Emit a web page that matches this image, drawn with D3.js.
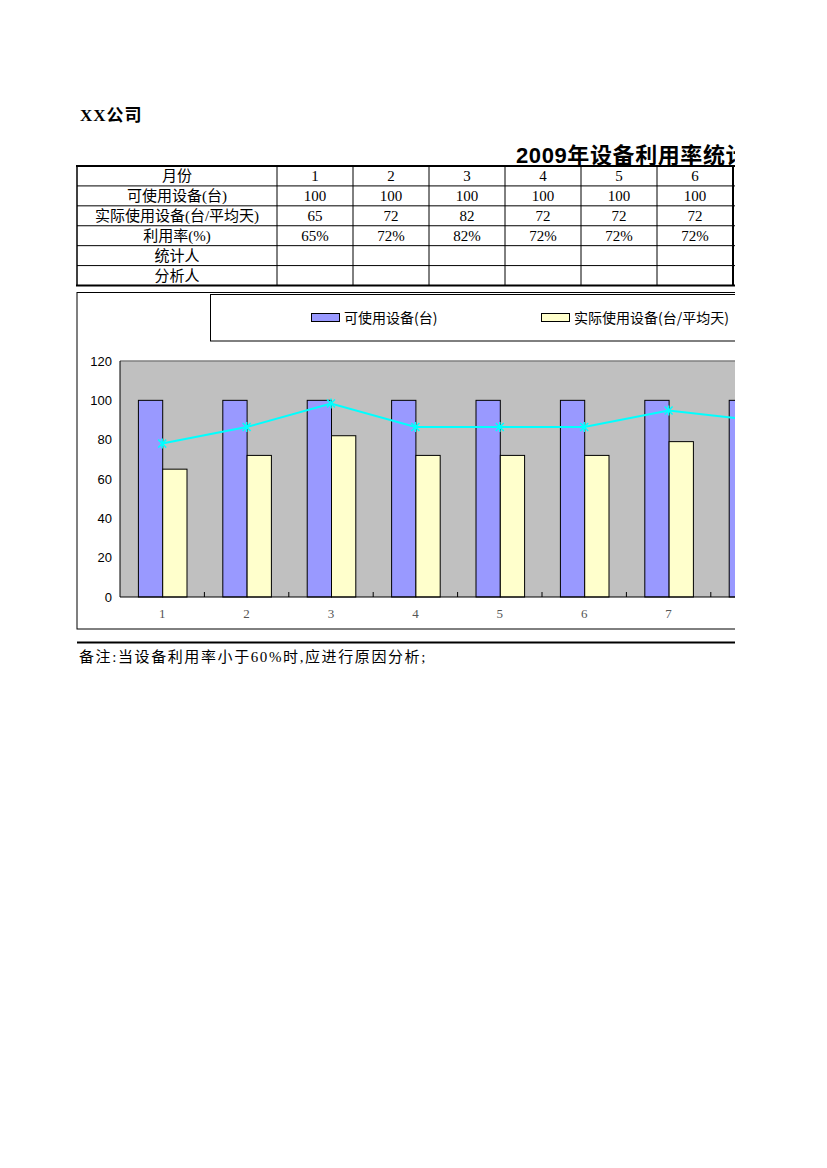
<!DOCTYPE html>
<html><head><meta charset="utf-8">
<script src="https://cdn.jsdelivr.net/npm/d3@7"></script>
<style>body{margin:0;background:#fff}</style></head>
<body><svg id="c" width="827" height="1168"></svg>
<script>
// ---- data ----
const months = ["1","2","3","4","5","6","7","8","9","10","11","12"];
const dataMonths = ["1","2","3","4","5","6","7","8"];
const available = [100,100,100,100,100,100,100,100];
const actual = [65,72,82,72,72,72,79,75];
const ratePct = [65,72,82,72,72,72,79,75];
const yTicks = [0,20,40,60,80,100,120];
const rowLabels = ["月份","可使用设备(台)","实际使用设备(台/平均天)","利用率(%)","统计人","分析人"];
const seriesNames = ["可使用设备(台)","实际使用设备(台/平均天)"];
const seriesColors = ["#9999FF","#FFFFCC"];
const companyText = "XX公司";
const titleText = "2009年设备利用率统计表";
const noteText = "备注:当设备利用率小于60%时,应进行原因分析;";

const svg = d3.select("#c");
const serifCJK = "'Liberation Serif','Noto Sans CJK SC',serif";
const CLIPX = 735;

svg.append("defs").append("clipPath").attr("id","pg")
  .append("rect").attr("x",0).attr("y",0).attr("width",CLIPX).attr("height",1168);
const g = svg.append("g").attr("clip-path","url(#pg)");

// company + title
svg.append("text").attr("x",80).attr("y",121).text(companyText)
  .attr("font-family","'Liberation Serif','Noto Sans CJK SC',serif")
  .attr("font-weight","bold").attr("font-size",17).attr("letter-spacing",1).attr("fill","#000");
g.append("text").attr("x",516).attr("y",163).text(titleText)
  .attr("font-family","'Liberation Sans','Noto Sans CJK SC',sans-serif")
  .attr("font-weight","bold").attr("font-size",22).attr("letter-spacing",0.6).attr("fill","#000");

// ---- table ----
const colX = d3.scaleBand().domain(months).range([277, 277 + 76*months.length]);
const rowY = d3.scaleBand().domain(rowLabels).range([166, 285.5]);
const tbl = g.append("g");
const tableRight = 277 + 76*months.length;
rowLabels.forEach((r,i)=>{
  if(i>0) tbl.append("line").attr("x1",77).attr("x2",tableRight).attr("y1",rowY(r)).attr("y2",rowY(r)).attr("stroke","#000").attr("stroke-width",1);
});
tbl.append("line").attr("x1",76).attr("x2",tableRight).attr("y1",166).attr("y2",166).attr("stroke","#000").attr("stroke-width",2);
tbl.append("line").attr("x1",76).attr("x2",tableRight).attr("y1",285.5).attr("y2",285.5).attr("stroke","#000").attr("stroke-width",2);
tbl.append("line").attr("x1",77).attr("x2",77).attr("y1",166).attr("y2",285.5).attr("stroke","#000").attr("stroke-width",1.5);
tbl.append("line").attr("x1",277).attr("x2",277).attr("y1",166).attr("y2",285.5).attr("stroke","#000").attr("stroke-width",1);
months.forEach(m=>{
  const xr = colX(m)+colX.bandwidth();
  tbl.append("line").attr("x1",xr).attr("x2",xr).attr("y1",166).attr("y2",285.5).attr("stroke","#000").attr("stroke-width", m==="6"?2:1);
});
rowLabels.forEach(r=>{
  tbl.append("text").attr("x",177).attr("y",rowY(r)+rowY.bandwidth()/2).attr("dy","0.36em")
    .attr("text-anchor","middle").attr("font-family",serifCJK).attr("font-size",15).attr("fill","#000").text(r);
});
const rowVals = [months, available.map(String), actual.map(String), ratePct.map(v=>v+"%")];
rowVals.forEach((vals,ri)=>{
  vals.forEach((v,ci)=>{
    const cxm = colX(months[ci])+colX.bandwidth()/2;
    if (cxm > CLIPX) return; // outside the printed page
    tbl.append("text").attr("x",cxm).attr("y",rowY(rowLabels[ri])+rowY.bandwidth()/2).attr("dy","0.36em")
      .attr("text-anchor","middle").attr("font-family",serifCJK).attr("font-size",15).attr("fill","#000").text(v);
  });
});

// ---- chart ----
const ch = g.append("g");
ch.append("rect").attr("x",77).attr("y",292.5).attr("width",1200).attr("height",336.5)
  .attr("fill","#fff").attr("stroke","#000").attr("stroke-width",1);
ch.append("rect").attr("x",210.5).attr("y",294.5).attr("width",900).attr("height",46.5)
  .attr("fill","#fff").attr("stroke","#000").attr("stroke-width",1);
const legendX = [311, 541];
seriesNames.forEach((n,i)=>{
  ch.append("rect").attr("x",legendX[i]+0.5).attr("y",313.5).attr("width",28).attr("height",8)
    .attr("fill",seriesColors[i]).attr("stroke","#000").attr("stroke-width",1);
  ch.append("text").attr("x",legendX[i]+33).attr("y",318).attr("dy","0.36em")
    .attr("font-family","'Noto Sans CJK SC',sans-serif").attr("font-size",14).attr("fill","#000").text(n);
});

const catW = 84.4;
const x = d3.scaleBand().domain(months).range([120, 120 + catW*months.length]);
const xs = d3.scaleBand().domain([0,1]).range([0, x.bandwidth()]).paddingInner(0).paddingOuter(0.737);
const y = d3.scaleLinear().domain([0,120]).range([597,361]);
const y2 = d3.scaleLinear().domain([0,100]).range([597,361]);

ch.append("rect").attr("x",120).attr("y",361).attr("width",x.range()[1]-120).attr("height",236).attr("fill","#C0C0C0");
ch.append("line").attr("x1",120).attr("x2",x.range()[1]).attr("y1",361).attr("y2",361).attr("stroke","#808080").attr("stroke-width",1.5);

const series = [available, actual];
series.forEach((vals,si)=>{
  ch.append("g").selectAll("rect").data(vals).join("rect")
    .attr("x",(d,i)=>x(dataMonths[i])+xs(si)+0.5)
    .attr("y",d=>y(d))
    .attr("width",xs.bandwidth())
    .attr("height",d=>y(0)-y(d))
    .attr("fill",seriesColors[si]).attr("stroke","#000").attr("stroke-width",1);
});

const yAxis = d3.axisLeft(y).tickValues(yTicks).tickSize(0).tickPadding(8);
const ya = ch.append("g").attr("transform","translate(120,0)").call(yAxis);
ya.select(".domain").remove();
ya.selectAll("text").attr("font-family","'Liberation Sans',Arial,sans-serif").attr("font-size",13).attr("fill","#000");
ch.append("line").attr("x1",120).attr("x2",120).attr("y1",361).attr("y2",597).attr("stroke","#000");

const visibleMonths = months.filter(m => x(m)+x.bandwidth()/2 < CLIPX);
const xAxis = d3.axisBottom(x).tickValues(visibleMonths).tickSize(0).tickPadding(12);
const xa = ch.append("g").attr("transform","translate(0,597)").call(xAxis);
xa.select(".domain").remove();
xa.selectAll("text").attr("font-family","'Liberation Serif',serif").attr("font-size",13).attr("fill","#555");
ch.append("line").attr("x1",120).attr("x2",x.range()[1]).attr("y1",597).attr("y2",597).attr("stroke","#000");
ch.append("g").selectAll("line").data(months).join("line")
  .attr("x1",d=>x(d)+x.bandwidth()).attr("x2",d=>x(d)+x.bandwidth())
  .attr("y1",597).attr("y2",592).attr("stroke","#000");

const cx = m => x(m)+x.bandwidth()/2;
const line = d3.line().x((d,i)=>cx(dataMonths[i])).y(d=>y2(d));
ch.append("path").datum(ratePct).attr("d",line).attr("fill","none").attr("stroke","#00FFFF").attr("stroke-width",2);
const mk = ch.append("g").selectAll("g").data(ratePct).join("g")
  .attr("transform",(d,i)=>`translate(${cx(dataMonths[i])},${y2(d)})`);
mk.append("path").attr("d","M-4,-4L4,4M-4,4L4,-4M0,-5L0,5").attr("stroke","#00FFFF").attr("stroke-width",1.5);

g.append("line").attr("x1",77).attr("x2",CLIPX).attr("y1",642.5).attr("y2",642.5).attr("stroke","#000").attr("stroke-width",2);
svg.append("text").attr("x",79).attr("y",657).attr("dy","0.36em").text(noteText)
  .attr("font-family",serifCJK).attr("font-size",15).attr("letter-spacing",1.6).attr("fill","#000");
</script></body></html>
